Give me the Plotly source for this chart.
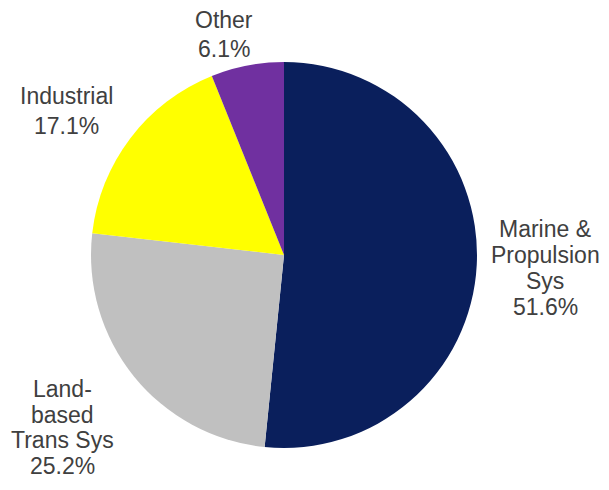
import plotly.graph_objects as go

# The page body has an 8px margin, so the figure is drawn at (8, 8)
OFF = 8
W, H = 609 - 2 * OFF, 490 - 2 * OFF

segments = ["Marine & Propulsion Sys", "Land-based Trans Sys", "Industrial", "Other"]
shares = [51.6, 25.2, 17.1, 6.1]
label_lines = [
    ["Marine &", "Propulsion", "Sys"],
    ["Land-", "based", "Trans Sys"],
    ["Industrial"],
    ["Other"],
]
colors = ["#0a1f5c", "#c0c0c0", "#ffff00", "#7030a0"]

# label layout in screenshot pixels: (x centre, first line y centre, line step)
label_pos = [(545, 229, 26), (62, 389, 25.6), (66, 96, 30), (224, 20, 29)]

cx, cy, r = 284 - OFF, 255 - OFF, 193

fig = go.Figure(go.Pie(
    labels=segments,
    values=shares,
    marker=dict(colors=colors, line=dict(width=0)),
    sort=False,
    direction="clockwise",
    rotation=0,
    textinfo="none",
    hoverinfo="label+percent",
    domain=dict(x=[(cx - r) / W, (cx + r) / W], y=[1 - (cy + r) / H, 1 - (cy - r) / H]),
    showlegend=False,
))

for lines, v, (px, py, step) in zip(label_lines, shares, label_pos):
    all_lines = lines + [f"{v:.1f}%"]
    for i, t in enumerate(all_lines):
        fig.add_annotation(
            text=t,
            x=(px - OFF) / W, y=1 - (py + i * step - OFF) / H, xref="paper", yref="paper",
            xanchor="center", yanchor="middle", showarrow=False, borderpad=0,
            font=dict(family="Liberation Sans, Arial, sans-serif", size=23, color="#404040"),
        )

fig.update_layout(
    width=W, height=H,
    margin=dict(l=0, r=0, t=0, b=0),
    paper_bgcolor="white", plot_bgcolor="white",
)

fig.write_html("out.html")
